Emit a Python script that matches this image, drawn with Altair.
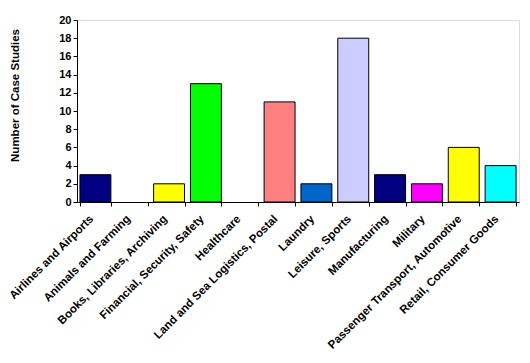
import altair as alt
import pandas as pd

categories = [
    "Airlines and Airports", "Animals and Farming", "Books, Libraries, Archiving",
    "Financial, Security, Safety", "Healthcare", "Land and Sea Logistics, Postal",
    "Laundry", "Leisure, Sports", "Manufacturing", "Military",
    "Passenger Transport, Automotive", "Retail, Consumer Goods",
]
values = [3, 0, 2, 13, 0, 11, 2, 18, 3, 2, 6, 4]
colors = ["#000080", "#000080", "#FFFF00", "#00FF00", "#000080", "#FF8080",
          "#0066CC", "#CCCCFF", "#000080", "#FF00FF", "#FFFF00", "#00FFFF"]

df = pd.DataFrame({"cat": categories, "val": values, "col": colors})

font = "Liberation Sans"

chart = alt.Chart(df).mark_bar(stroke="black").encode(
    x=alt.X("cat:N", sort=categories, title=None,
            scale=alt.Scale(paddingInner=0.16, paddingOuter=0.08),
            axis=alt.Axis(labelAngle=-45, labelAlign="right", labelBaseline="middle",
                          labelFont=font, labelFontWeight="bold", labelFontSize=11.5,
                          labelColor="black", labelPadding=11, labelOffset=-4,
                          tickBand="extent",
                          tickSize=4, tickColor="black", domainColor="black",
                          labelOverlap=False, labelLimit=300)),
    y=alt.Y("val:Q", title="Number of Case Studies",
            scale=alt.Scale(domain=[0, 20], nice=False),
            axis=alt.Axis(values=list(range(0, 21, 2)), grid=False,
                          labelFont=font, labelFontWeight="bold", labelFontSize=11,
                          labelColor="black", tickSize=4, tickColor="black",
                          domainColor="black", titleFont=font, titleFontWeight="bold",
                          titleFontSize=11.5, titleColor="black", titlePadding=38,
                          titleY=75)),
    fill=alt.Fill("col:N", scale=None),
    strokeWidth=alt.condition(alt.datum.val > 0, alt.value(1), alt.value(0)),
).properties(
    width=442, height=182,
    autosize=alt.AutoSizeParams(type="none"),
    padding={"left": 69, "top": 12, "right": 3, "bottom": 153},
).configure_view(stroke=None).configure(background="white")

chart.save("out.html", embed_options={"renderer": "svg", "actions": False})
